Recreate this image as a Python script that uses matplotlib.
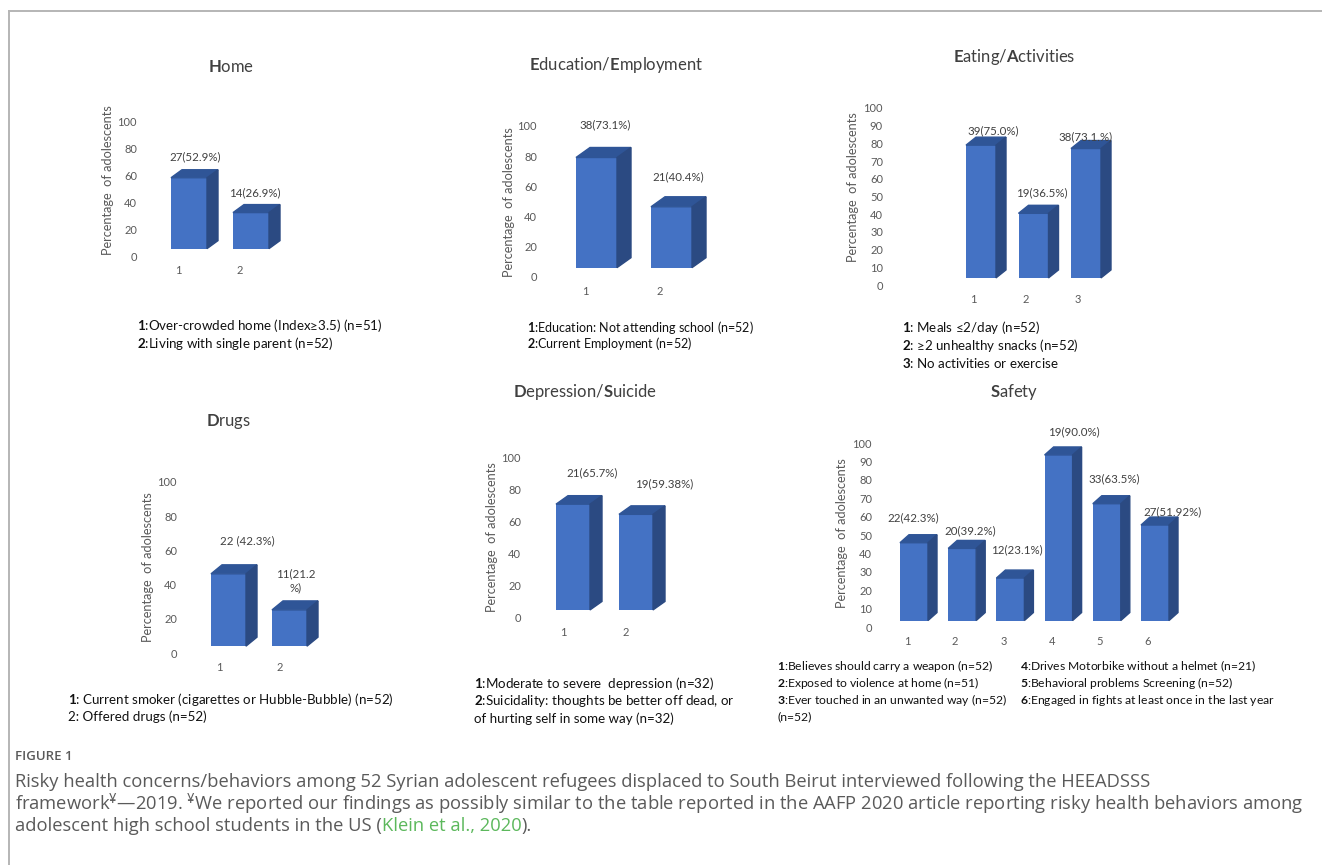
import matplotlib
matplotlib.use('Agg')
import matplotlib.pyplot as plt
from matplotlib.patches import Polygon
from matplotlib.lines import Line2D

plt.rcParams['font.family'] = ['Lato', 'DejaVu Sans']
plt.rcParams['mathtext.fontset'] = 'custom'
plt.rcParams['mathtext.rm'] = 'Lato'
plt.rcParams['mathtext.bf'] = 'Lato:bold'
plt.rcParams['mathtext.it'] = 'Lato:italic'

# ---- data ----
home_values = [52.9, 26.9]
home_text = ['27(52.9%)', '14(26.9%)']
home_legend = [r'$\mathbf{1}$:Over-crowded home (Index≥3.5) (n=51)',
               r'$\mathbf{2}$:Living with single parent (n=52)']

edu_values = [73.1, 40.4]
edu_text = ['38(73.1%)', '21(40.4%)']
edu_legend = [r'$\mathbf{1}$:Education: Not attending school (n=52)',
              r'$\mathbf{2}$:Current Employment (n=52)']

eat_values = [75.0, 36.5, 73.1]
eat_text = ['39(75.0%)', '19(36.5%)', '38(73.1.%)']
eat_legend = [r'$\mathbf{1}$: Meals ≤2/day (n=52)',
              r'$\mathbf{2}$: ≥2 unhealthy snacks (n=52)',
              r'$\mathbf{3}$: No activities or exercise']

drug_values = [42.3, 21.2]
drug_text = ['22 (42.3%)', '11(21.2\n%)']
drug_legend = [r'$\mathbf{1}$: Current smoker (cigarettes or Hubble-Bubble) (n=52)',
               '2: Offered drugs (n=52)']

dep_values = [65.7, 59.38]
dep_text = ['21(65.7%)', '19(59.38%)']
dep_legend = [r'$\mathbf{1}$:Moderate to severe  depression (n=32)',
              r'$\mathbf{2}$:Suicidality: thoughts be better off dead, or',
              'of hurting self in some way (n=32)']

safe_values = [42.3, 39.2, 23.1, 90.0, 63.5, 51.92]
safe_text = ['22(42.3%)', '20(39.2%)', '12(23.1%)', '19(90.0%)', '33(63.5%)', '27(51.92%)']
safe_legend_left = [r'$\mathbf{1}$:Believes should carry a weapon (n=52)',
                    r'$\mathbf{2}$:Exposed to violence at home (n=51)',
                    r'$\mathbf{3}$:Ever touched in an unwanted way (n=52)',
                    '(n=52)']
safe_legend_right = [r'$\mathbf{4}$:Drives Motorbike without a helmet (n=21)',
                     r'$\mathbf{5}$:Behavioral problems Screening (n=52)',
                     r'$\mathbf{6}$:Engaged in fights at least once in the last year']

W, H = 1322, 865
FRONT = '#4472c4'
TOP = '#2f5597'
SIDE = '#2b4a82'
TXT = '#404040'
GREY = '#595959'

fig = plt.figure(figsize=(W / 100, H / 100), dpi=100)


def ftext(x, y, s, **kw):
    # place text using pixel coordinates of the reference
    return fig.text(x / W, 1 - y / H, s, **kw)


def panel(values, texts, first, step, y0, ytop, ystep, lab_right, right,
          bar_off, bar_w, depth, base, text_off):
    n = len(values)
    left = lab_right + 5
    ax = fig.add_axes([left / W, 1 - y0 / H, (right - left) / W, (y0 - ytop) / H])
    ax.set_ylim(0, 100)
    ax.set_xlim(1 - (first - left) / step, 1 + (right - first) / step)
    xs = list(range(1, n + 1))
    ppu = (y0 - ytop) / 100
    dx = depth[0] / step
    dy = depth[1] / ppu
    lefts = [x + bar_off / step for x in xs]
    ax.bar(lefts, values, width=bar_w / step, bottom=base, align='edge',
           color=FRONT, zorder=2, clip_on=False)
    for xl, v in zip(lefts, values):
        xr = xl + bar_w / step
        yb, yt = base, base + v
        ax.add_patch(Polygon([(xl, yt), (xl + dx, yt + dy), (xr + dx, yt + dy), (xr, yt)],
                             closed=True, color=TOP, clip_on=False, zorder=2))
        ax.add_patch(Polygon([(xr, yb), (xr + dx, yb + dy), (xr + dx, yt + dy), (xr, yt)],
                             closed=True, color=SIDE, clip_on=False, zorder=2))
    for x, v, t, (ox, oy) in zip(xs, values, texts, text_off):
        ax.annotate(t, xy=(x, base + v), xytext=(ox * 0.72, oy * 0.72),
                    textcoords='offset points', ha='center', va='center',
                    multialignment='center', linespacing=1.35,
                    fontsize=8.3, color=TXT, annotation_clip=False)
    ax.set_yticks(range(0, 101, ystep))
    ax.set_xticks(xs)
    ax.tick_params(length=0, labelsize=8, labelcolor=GREY)
    ax.tick_params(axis='y', pad=3.6)
    ax.tick_params(axis='x', pad=6.5)
    for s in ax.spines.values():
        s.set_visible(False)
    ax.patch.set_alpha(0)
    return ax


def legend(x, ys, lines, size=9.6):
    for y, s in zip(ys, lines):
        ftext(x, y, s, ha='left', va='center', fontsize=size, color='#111111')


def ylab(x, y):
    ftext(x, y, 'Percentage  of adolescents', rotation=90, ha='center', va='center',
          fontsize=9.2, color=GREY)


def title(x, y, s):
    ftext(x, y, s, ha='center', va='center', fontsize=12, color=TXT)


# Home
panel(home_values, home_text, 178, 62, 256, 122, 20, 137, 300,
      -7, 36, (11, 8), 5.5, [(17, 21), (15, 20)])
title(231, 67, r'$\mathbf{H}$ome')
ylab(108, 180)
legend(137, [326, 343], home_legend)

# Education / Employment
panel(edu_values, edu_text, 585, 75, 276.7, 126, 20, 537, 720,
      -9, 41, (14, 10), 6, [(20, 33), (18, 30)])
title(616, 65, r'$\mathbf{E}$ducation/$\mathbf{E}$mployment')
ylab(509, 202)
legend(527, [327, 344], edu_legend, size=9.0)

# Eating / Activities
panel(eat_values, eat_text, 973, 52.5, 285, 108, 10, 883, 1110,
      -7, 30, (10, 8), 4, [(20, 14), (16, 21), (8, 12)])
title(1014, 57, r'$\mathbf{E}$ating/$\mathbf{A}$ctivities')
ylab(853, 187)
legend(902, [327, 346, 363], eat_legend)

# Drugs
panel(drug_values, drug_text, 219, 61, 653, 482, 20, 177, 330,
      -8, 35, (11, 9), 4, [(28, 33), (16, 29)])
title(229, 421, r'$\mathbf{D}$rugs')
ylab(148, 567)
legend(68, [699, 717], drug_legend)

# Depression / Suicide
panel(dep_values, dep_text, 563, 63, 618, 457, 20, 521, 680,
      -7, 34, (12, 8.5), 5, [(29, 31), (38, 31)])
title(585, 392, r'$\mathbf{D}$epression/$\mathbf{S}$uicide')
ylab(492, 537)
legend(474, [683, 701, 719], dep_legend)

# Safety
panel(safe_values, safe_text, 907, 48.2, 627, 443, 10, 872, 1190,
      -7, 28, (9, 8), 3.5, [(6, 25), (15, 18), (13, 28), (22, 23), (14, 25), (25, 13)])
title(1014, 392, r'$\mathbf{S}$afety')
ylab(842, 533)
legend(777, [666, 683, 700, 717], safe_legend_left, size=8.7)
legend(1020, [666, 683, 700], safe_legend_right, size=8.7)

# frame lines
fig.add_artist(Line2D([9 / W, 1], [1 - 11 / H, 1 - 11 / H], transform=fig.transFigure,
                      color='#b5b5b5', lw=1.4))
fig.add_artist(Line2D([9 / W, 9 / W], [1 - 11 / H, 0], transform=fig.transFigure,
                      color='#b5b5b5', lw=1.4))

# caption
CAP = 13.2
cap = dict(family=['Open Sans', 'DejaVu Sans'], color='#5a5a5a', va='center', ha='left')
ftext(15, 757, 'FIGURE 1', fontsize=9.5, fontweight='semibold', **cap)
ftext(15, 782, 'Risky health concerns/behaviors among 52 Syrian adolescent refugees displaced '
      'to South Beirut interviewed following the HEEADSSS', fontsize=CAP, **cap)
ftext(15, 804, r'framework$^{\yen}$—2019. $^{\yen}$We reported our findings as possibly similar '
      'to the table reported in the AAFP 2020 article reporting risky health behaviors among',
      fontsize=CAP, **cap)
t1 = ftext(15, 826, 'adolescent high school students in the US (', fontsize=CAP, **cap)
r = fig.canvas.get_renderer()
x1 = t1.get_window_extent(r).x1
t2 = fig.text(x1 / W, 1 - 826 / H, 'Klein et al., 2020', fontsize=CAP,
              family=['Open Sans', 'DejaVu Sans'], color='#5cb85c', va='center', ha='left')
x2 = t2.get_window_extent(r).x1
fig.text(x2 / W, 1 - 826 / H, ').', fontsize=CAP, **cap)

fig.savefig('out.png', dpi=100)
